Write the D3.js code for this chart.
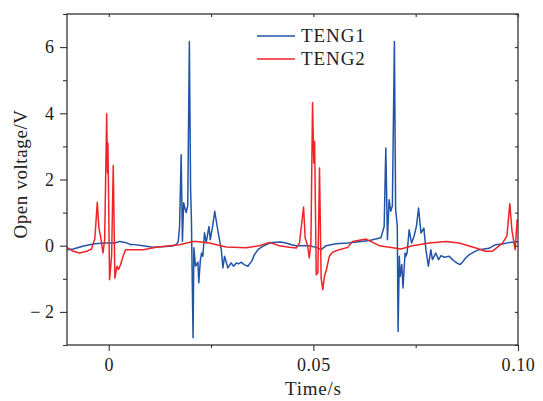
<!DOCTYPE html>
<html>
<head>
<meta charset="utf-8">
<script src="https://cdn.jsdelivr.net/npm/d3@7"></script>
<style>
  html, body { margin: 0; padding: 0; background: #fff; }
  svg { display: block; }
  text { font-family: "Liberation Serif", "Times New Roman", serif; fill: #222; }
</style>
</head>
<body>
<svg id="chart" width="543" height="401"></svg>
<script>
// ---- Data (time in s, voltage in V) ----
const seriesNames = ["TENG1", "TENG2"];

const teng1Time = [-0.0102, -0.0087, -0.0059, -0.0046, -0.0034, -0.0010, 0.0015, 0.0027, 0.0040, 0.0055, 0.0059,
  0.0084, 0.0107, 0.0130, 0.0149, 0.0159, 0.0166, 0.0170, 0.0173, 0.0177, 0.0180, 0.0183, 0.0189, 0.0193, 0.0197,
  0.0200, 0.0202, 0.0206, 0.0208, 0.0212, 0.0218, 0.0220, 0.0224, 0.0227, 0.0230, 0.0234, 0.0238, 0.0245, 0.0248,
  0.0254, 0.0259, 0.0265, 0.0269, 0.0275, 0.0279, 0.0283, 0.0291, 0.0299, 0.0305, 0.0312, 0.0317, 0.0324, 0.0332,
  0.0340, 0.0350, 0.0356, 0.0366, 0.0376, 0.0389, 0.0401, 0.0420, 0.0433, 0.0447, 0.0458, 0.0473, 0.0490, 0.0507,
  0.0519, 0.0531, 0.0555, 0.0584, 0.0610, 0.0637, 0.0652, 0.0665, 0.0673, 0.0677, 0.0681, 0.0685, 0.0689, 0.0693,
  0.0698, 0.0701, 0.0705, 0.0707, 0.0710, 0.0712, 0.0716, 0.0719, 0.0724, 0.0726, 0.0729, 0.0734, 0.0740, 0.0746,
  0.0752, 0.0757, 0.0763, 0.0770, 0.0775, 0.0781, 0.0787, 0.0791, 0.0799, 0.0806, 0.0812, 0.0820, 0.0832, 0.0840,
  0.0848, 0.0858, 0.0863, 0.0872, 0.0881, 0.0895, 0.0905, 0.0929, 0.0945, 0.0962, 0.0980, 0.1000];
const teng1Volt = [-0.12, -0.10, 0.00, 0.03, 0.06, 0.08, 0.08, 0.13, 0.10, 0.03, 0.04,
  0.00, -0.05, -0.03, -0.02, 0.00, 0.05, 0.13, 0.58, 2.75, 0.13, 1.30, 1.00, 1.20, 6.17,
  1.70, 0.80, -2.78, -0.06, -0.62, -0.50, -1.12, -0.42, -0.22, -0.32, 0.39, 0.09, 0.58, 0.18,
  0.60, 1.04, 0.58, 0.28, -0.12, -0.67, -0.32, -0.67, -0.52, -0.62, -0.52, -0.55, -0.50, -0.58,
  -0.62, -0.45, -0.27, -0.10, -0.02, 0.06, 0.10, 0.11, 0.08, 0.03, 0.00, 0.00, 0.00, -0.05,
  -0.12, 0.00, 0.06, 0.08, 0.12, 0.16, 0.20, 0.24, 0.58, 2.95, 0.18, 1.39, 1.04, 1.20,
  6.17, 1.09, 0.60, -2.59, -0.32, -0.93, -0.57, -1.28, -0.22, -0.32, -0.22, 0.48, 0.08, 0.28,
  0.60, 1.14, 0.38, 0.53, -0.12, -0.62, -0.12, -0.42, -0.22, -0.42, -0.30, -0.35, -0.32, -0.42,
  -0.50, -0.57, -0.52, -0.37, -0.27, -0.17, -0.12, -0.08, 0.03, 0.05, 0.10, 0.12];

const teng2Time = [-0.0102, -0.0087, -0.0071, -0.0054, -0.0042, -0.0037, -0.0034, -0.0028, -0.0024, -0.0020, -0.0014,
  -0.0010, -0.0005, -0.0003, -0.0002, 0.0002, 0.0007, 0.0011, 0.0015, 0.0020, 0.0024, 0.0029, 0.0035, 0.0041,
  0.0055, 0.0084, 0.0116, 0.0149, 0.0173, 0.0206, 0.0214, 0.0246, 0.0287, 0.0336, 0.0368, 0.0393, 0.0417, 0.0441,
  0.0458, 0.0466, 0.0476, 0.0480, 0.0486, 0.0490, 0.0494, 0.0498, 0.0501, 0.0503, 0.0507, 0.0511, 0.0515, 0.0519,
  0.0523, 0.0527, 0.0532, 0.0539, 0.0547, 0.0563, 0.0584, 0.0596, 0.0629, 0.0661, 0.0698, 0.0714, 0.0742, 0.0783,
  0.0824, 0.0856, 0.0897, 0.0921, 0.0937, 0.0962, 0.0973, 0.0980, 0.0985, 0.0993, 0.0998];
const teng2Volt = [-0.05, -0.17, -0.22, -0.17, -0.10, 0.10, 0.20, 1.31, 0.53, 0.28, -0.22,
  0.18, 3.99, 2.20, 3.10, -1.03, -0.32, 2.42, -0.98, -0.62, -0.72, -0.57, -0.32, -0.12,
  -0.12, -0.12, -0.05, 0.00, 0.03, 0.13, 0.13, 0.08, -0.04, -0.06, 0.00, 0.10, 0.00, -0.05,
  -0.07, 0.08, 1.17, 0.23, 0.00, -0.37, 0.08, 4.33, 2.50, 3.15, -0.88, -0.82, 2.35, -0.98,
  -1.33, -0.93, -0.72, -0.32, -0.20, -0.12, -0.05, 0.13, 0.20, 0.00, -0.07, -0.10, 0.00, 0.08,
  0.13, 0.08, -0.07, -0.17, -0.17, 0.08, 0.30, 1.27, 0.48, -0.12, 0.80];

const xTicks = [0, 0.05, 0.10];
const xTickLabels = ["0", "0.05", "0.10"];
const xMinorTicks = [0.025, 0.075];
const yTicks = [-2, 0, 2, 4, 6];
const yTickLabels = ["\u2212 2", "0", "2", "4", "6"];
const yMinorTicks = [-3, -1, 1, 3, 5, 7];

// ---- Layout ----
const W = 543, H = 401;
const margin = { left: 67, top: 14, right: 25, bottom: 56 };
const iw = W - margin.left - margin.right;
const ih = H - margin.top - margin.bottom;
const colors = ["#2154a8", "#f02428"];
const axisColor = "#333";

const svg = d3.select("#chart");
const g = svg.append("g").attr("transform", `translate(${margin.left},${margin.top})`);

const x = d3.scaleLinear().domain([-0.0102, 0.10]).range([0, iw]);
const y = d3.scaleLinear().domain([-3, 7]).range([ih, 0]);

svg.append("defs").append("clipPath").attr("id", "clip")
  .append("rect").attr("width", iw).attr("height", ih);

const line = d3.line().x(d => x(d[0])).y(d => y(d[1]));
const data1 = teng1Time.map((t, i) => [t, teng1Volt[i]]);
const data2 = teng2Time.map((t, i) => [t, teng2Volt[i]]);

const plot = g.append("g").attr("clip-path", "url(#clip)");
plot.append("path").datum(data1).attr("d", line)
  .attr("fill", "none").attr("stroke", colors[0]).attr("stroke-width", 1.5).attr("stroke-linejoin", "round");
plot.append("path").datum(data2).attr("d", line)
  .attr("fill", "none").attr("stroke", colors[1]).attr("stroke-width", 1.5).attr("stroke-linejoin", "round");

// ---- Axes ----
function styleAxis(sel) {
  sel.select(".domain").remove();
  sel.selectAll("line").attr("stroke", axisColor).attr("stroke-width", 1.1);
  sel.selectAll("text").style("font-family", '"Liberation Serif", serif').style("font-size", "18px").attr("fill", "#222");
}

// bottom major
const xAxis = g.append("g").attr("transform", `translate(0,${ih})`)
  .call(d3.axisBottom(x).tickValues(xTicks).tickFormat((d, i) => xTickLabels[i]).tickSizeInner(6).tickSizeOuter(0).tickPadding(7));
styleAxis(xAxis);
xAxis.selectAll("text").attr("letter-spacing", "0.6px");
// bottom minor
const xAxisMinor = g.append("g").attr("transform", `translate(0,${ih})`)
  .call(d3.axisBottom(x).tickValues(xMinorTicks).tickFormat("").tickSizeInner(3).tickSizeOuter(0));
styleAxis(xAxisMinor);
// top (inward)
const xTop = g.append("g")
  .call(d3.axisTop(x).tickValues(xTicks.concat(xMinorTicks)).tickFormat("").tickSizeInner(-3).tickSizeOuter(0));
styleAxis(xTop);

// left major
const yAxis = g.append("g")
  .call(d3.axisLeft(y).tickValues(yTicks).tickFormat((d, i) => yTickLabels[i]).tickSizeInner(7).tickSizeOuter(0).tickPadding(6));
styleAxis(yAxis);
const yAxisMinor = g.append("g")
  .call(d3.axisLeft(y).tickValues(yMinorTicks).tickFormat("").tickSizeInner(4).tickSizeOuter(0));
styleAxis(yAxisMinor);
// right (inward)
const yRight = g.append("g").attr("transform", `translate(${iw},0)`)
  .call(d3.axisRight(y).tickValues(yTicks.concat(yMinorTicks)).tickFormat("").tickSizeInner(-3).tickSizeOuter(0));
styleAxis(yRight);

// frame
g.append("rect").attr("width", iw).attr("height", ih)
  .attr("fill", "none").attr("stroke", axisColor).attr("stroke-width", 1.3);

// axis titles
svg.append("text").attr("x", margin.left + x(0.05)).attr("y", 395)
  .attr("text-anchor", "middle").style("font-size", "19px").attr("letter-spacing", "0.8px").text("Time/s");
svg.append("text").attr("transform", `translate(27,${174}) rotate(-90)`)
  .attr("text-anchor", "middle").style("font-size", "19px").attr("letter-spacing", "0.6px").text("Open voltage/V");

// legend
const legend = svg.append("g");
seriesNames.forEach((name, i) => {
  const ly = 36 + i * 23;
  legend.append("line").attr("x1", 257).attr("x2", 295).attr("y1", ly).attr("y2", ly)
    .attr("stroke", colors[i]).attr("stroke-width", 1.5);
  legend.append("text").attr("x", 301).attr("y", ly + 6)
    .style("font-size", "19px").attr("letter-spacing", "0.9px").text(name);
});
</script>
</body>
</html>
